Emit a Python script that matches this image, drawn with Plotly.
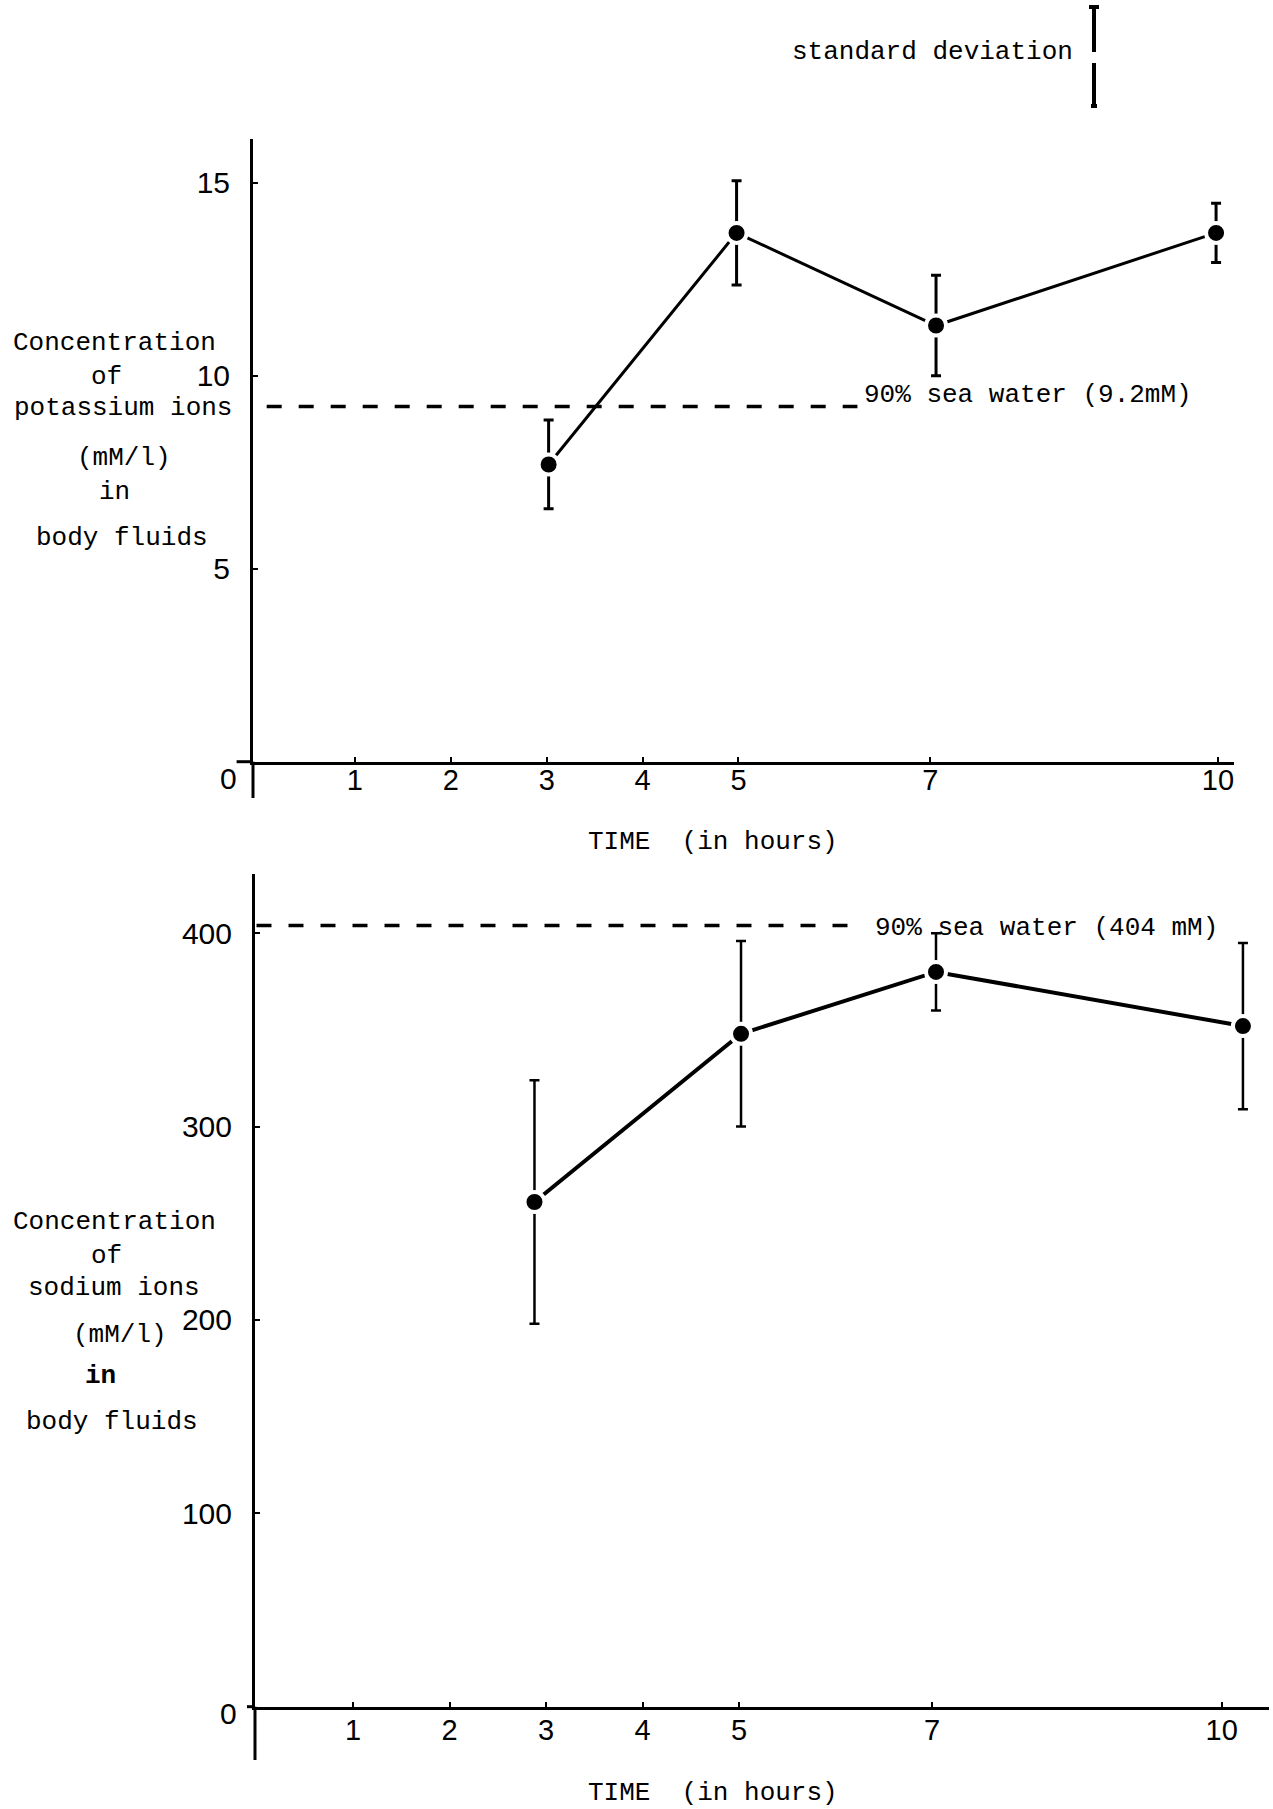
import plotly.graph_objects as go

W, H = 1273, 1809

# ---- Potassium in body fluids (upper panel) ----
k_time = [3.02, 4.98, 7.06, 9.98]
k_mean = [7.7, 13.7, 11.3, 13.7]
k_sd = [1.15, 1.35, 1.3, 0.77]
k_seawater = 9.2
k_ticks = [5, 10, 15]

# ---- Sodium in body fluids (lower panel) ----
na_time = [2.88, 5.02, 7.04, 10.22]
na_mean = [261, 348, 380, 352]
na_sd = [63, 48, 20, 43]
na_seawater = 404
na_ticks = [100, 200, 300, 400]

time_ticks = [1, 2, 3, 4, 5, 7, 10]

TYPE = "Liberation Mono, Courier New, monospace"
HAND = "Liberation Sans Narrow, Arial Narrow, Liberation Sans, sans-serif"
INK = "black"


def px(x):
    return x / W


def py(y):
    return 1 - y / H


def series(x, y, sd, xa, ya, lw, ew):
    return go.Scatter(
        x=x, y=y, xaxis=xa, yaxis=ya, mode="lines+markers",
        line=dict(color=INK, width=lw),
        marker=dict(color=INK, size=20, line=dict(color="white", width=4)),
        error_y=dict(type="data", array=sd, visible=True, color=INK,
                     thickness=ew, width=5),
        showlegend=False, hoverinfo="skip",
    )


fig = go.Figure()
fig.add_trace(series(k_time, k_mean, k_sd, "x", "y", 3, 3))
fig.add_trace(series(na_time, na_mean, na_sd, "x2", "y2", 4, 2.5))

xcommon = dict(
    tickmode="array", tickvals=time_ticks, ticktext=[str(t) for t in time_ticks],
    ticks="inside", ticklen=5, tickwidth=2, tickcolor=INK,
    showline=True, linecolor=INK, linewidth=3,
    showgrid=False, zeroline=False,
    tickfont=dict(family=HAND, size=29, color=INK),
)
ycommon = dict(
    tickmode="array", ticks="inside", ticklen=5, tickwidth=2, tickcolor=INK,
    showline=True, linecolor=INK, linewidth=3,
    showgrid=False, zeroline=False,
    ticklabelstandoff=14,
)

fig.update_layout(
    width=W, height=H,
    margin=dict(l=0, r=0, t=0, b=0),
    paper_bgcolor="white", plot_bgcolor="white",
    showlegend=False,
    xaxis=dict(xcommon, domain=[px(253), px(1234)], range=[-0.0626, 10.167],
               anchor="y", ticklabelstandoff=-10),
    yaxis=dict(ycommon, domain=[py(761.7), py(138.5)], range=[0, 16.145],
               anchor="x", tickvals=k_ticks, ticktext=[str(v) for v in k_ticks],
               tickfont=dict(family=HAND, size=30, color=INK)),
    xaxis2=dict(xcommon, domain=[px(255), px(1269)], range=[-0.0155, 10.49],
                anchor="y2", ticklabelstandoff=-5),
    yaxis2=dict(ycommon, domain=[py(1706.7), py(873.7)], range=[0, 430.8],
                anchor="x2", tickvals=na_ticks, ticktext=[str(v) for v in na_ticks],
                tickfont=dict(family=HAND, size=30, color=INK)),
)

shapes = []
# axis stubs running past the origin
shapes.append(dict(type="line", xref="paper", yref="paper", x0=px(253), x1=px(253),
                   y0=py(761.7), y1=py(798), line=dict(color=INK, width=3)))
shapes.append(dict(type="line", xref="paper", yref="paper", x0=px(236.6), x1=px(253),
                   y0=py(761.7), y1=py(761.7), line=dict(color=INK, width=3)))
shapes.append(dict(type="line", xref="paper", yref="paper", x0=px(255), x1=px(255),
                   y0=py(1706.7), y1=py(1760), line=dict(color=INK, width=3)))
shapes.append(dict(type="line", xref="paper", yref="paper", x0=px(247), x1=px(255),
                   y0=py(1706.7), y1=py(1706.7), line=dict(color=INK, width=3)))

# 90% sea water reference levels
shapes.append(dict(type="line", xref="x", yref="y", x0=0.08, x1=6.24,
                   y0=k_seawater, y1=k_seawater,
                   line=dict(color=INK, width=3.5, dash="15px,17px")))
shapes.append(dict(type="line", xref="x2", yref="y2", x0=0.0, x1=6.22,
                   y0=na_seawater, y1=na_seawater,
                   line=dict(color=INK, width=3.5, dash="15px,17px")))

# standard deviation key bar
bx = px(1094)
shapes.append(dict(type="line", xref="paper", yref="paper", x0=bx, x1=bx,
                   y0=py(7), y1=py(52), line=dict(color=INK, width=4)))
shapes.append(dict(type="line", xref="paper", yref="paper", x0=bx, x1=bx,
                   y0=py(63), y1=py(106), line=dict(color=INK, width=4)))
shapes.append(dict(type="line", xref="paper", yref="paper", x0=px(1089), x1=px(1099),
                   y0=py(7), y1=py(7), line=dict(color=INK, width=4)))
shapes.append(dict(type="line", xref="paper", yref="paper", x0=px(1091), x1=px(1097),
                   y0=py(106), y1=py(106), line=dict(color=INK, width=4)))
fig.update_layout(shapes=shapes)


def note(text, x, y, size=26, family=TYPE, xanchor="center"):
    fig.add_annotation(text=text, x=px(x), y=py(y), xref="paper", yref="paper",
                       xanchor=xanchor, yanchor="middle", showarrow=False,
                       font=dict(family=family, size=size, color=INK))


# key
note("standard deviation", 1075, 52, xanchor="right")

# upper panel labels
for txt, x, y in [("Concentration", 114, 343), ("of", 106, 377),
                  ("potassium ions", 123, 408), ("(mM/l)", 124, 458),
                  ("in", 114, 492), ("body fluids", 122, 538)]:
    note(txt, x, y)
note("0", 228, 779, size=30, family=HAND)
note("TIME  (in hours)", 713, 842)
fig.add_annotation(text="90% sea water (9.2mM)", x=6.24, y=k_seawater, xref="x", yref="y",
                   xanchor="left", yanchor="middle", xshift=5, yshift=12, showarrow=False,
                   font=dict(family=TYPE, size=26, color=INK))

# lower panel labels
for txt, x, y in [("Concentration", 114, 1222), ("of", 106, 1256),
                  ("sodium ions", 114, 1288), ("(mM/l)", 120, 1335),
                  ("<b>in</b>", 100, 1376), ("body fluids", 112, 1422)]:
    note(txt, x, y)
note("0", 228, 1713, size=30, family=HAND)
note("TIME  (in hours)", 713, 1793)
fig.add_annotation(text="90% sea water (404 mM)", x=6.22, y=na_seawater, xref="x2", yref="y2",
                   xanchor="left", yanchor="middle", xshift=16, yshift=-2, showarrow=False,
                   font=dict(family=TYPE, size=26, color=INK))

fig.write_html("out.html", config={"displayModeBar": False})
